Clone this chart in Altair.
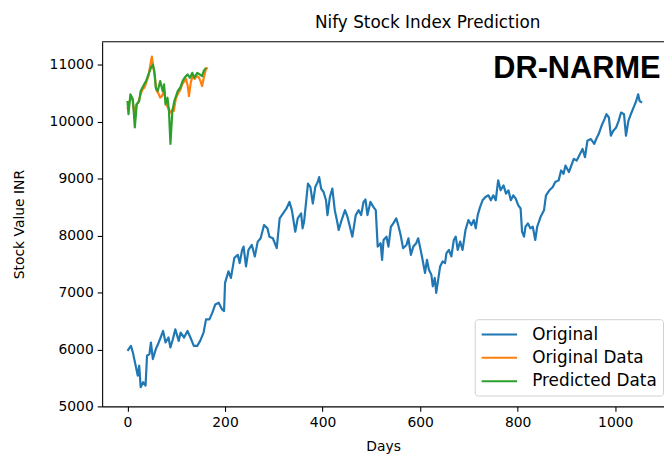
import altair as alt
import pandas as pd

# ---- data ----
orig_days = [0, 7, 11, 16, 21, 24, 27, 32, 37, 40, 45, 48, 52, 58, 64, 68, 73, 78, 84, 88,
             93, 98, 105, 109, 116, 123, 129, 136, 143, 149, 156, 161, 168, 174, 180, 187, 194, 198, 200, 207,
             212, 219, 226, 230, 235, 238, 243, 248, 255, 261, 267, 273, 280, 287, 291, 298, 306, 312, 319, 326,
             332, 337, 344, 349, 356, 359, 362, 370, 375, 380, 385, 390, 393, 397, 402, 407, 410, 415, 420, 425,
             430, 433, 439, 446, 451, 456, 461, 468, 474, 479, 484, 488, 492, 498, 504, 509, 513, 519, 522, 525,
             531, 535, 540, 545, 551, 555, 560, 565, 572, 576, 581, 586, 592, 596, 601, 605, 610, 614, 618, 623,
             626, 630, 633, 637, 641, 646, 651, 654, 659, 664, 669, 673, 677, 682, 687, 693, 699, 705, 710, 714,
             718, 723, 728, 734, 740, 745, 750, 755, 760, 765, 771, 776, 781, 786, 791, 796, 801, 806, 809, 813,
             816, 821, 826, 831, 836, 840, 847, 854, 858, 865, 872, 877, 884, 889, 894, 898, 905, 910, 915, 921,
             928, 933, 938, 943, 950, 957, 961, 966, 972, 978, 982, 987, 991, 996, 1002, 1007, 1012, 1018, 1022, 1027,
             1032, 1039, 1043, 1047, 1050, 1055]
orig_vals = [5975, 6063, 5948, 5744, 5540, 5714, 5338, 5425, 5366, 5889, 5918, 6122, 5831, 6005, 6122, 6209, 6324, 6122, 6209, 6035,
             6179, 6354, 6150, 6296, 6209, 6324, 6209, 6063, 6063, 6150, 6296, 6528, 6528, 6645, 6789, 6819, 6702, 6673, 7167, 7370,
             7254, 7603, 7661, 7516, 7747, 7805, 7456, 7747, 7834, 7631, 7892, 7951, 8183, 8125, 7979, 7951, 7777, 8300, 8387, 8474,
             8589, 8444, 8066, 8300, 8387, 8125, 8240, 8909, 8850, 8561, 8850, 8937, 9024, 8822, 8763, 8618, 8357, 8676, 8822, 8444,
             8240, 8096, 8270, 8444, 8328, 8153, 7979, 8357, 8444, 8357, 8589, 8631, 8357, 8589, 8502, 8444, 7805, 7864, 7573, 7921,
             7979, 7805, 8153, 8212, 8300, 8183, 8009, 7777, 7834, 7951, 7660, 7805, 7864, 7951, 7747, 7573, 7341, 7573, 7399, 7312,
             7108, 7254, 6993, 7225, 7456, 7544, 7516, 7690, 7747, 7631, 7921, 7979, 7747, 7892, 7747, 8096, 8270, 8183, 8270, 8125,
             8357, 8502, 8618, 8676, 8705, 8618, 8705, 8618, 8967, 8793, 8880, 8735, 8793, 8618, 8705, 8648, 8531, 8473, 8066, 7979,
             8153, 8212, 8125, 8153, 7921, 8153, 8328, 8444, 8705, 8793, 8850, 8937, 8967, 9141, 9083, 9228, 9112, 9228, 9345, 9316,
             9432, 9519, 9373, 9664, 9693, 9606, 9693, 9780, 9925, 10041, 10128, 10070, 9751, 9838, 9895, 10012, 10157, 10128, 9751, 10012,
             10128, 10273, 10360, 10477, 10360, 10331]

test_days = [0, 3, 6, 10, 14, 18, 22, 26, 30, 35, 39, 43, 47, 50, 53, 56, 59, 63, 67, 71,
             75, 79, 83, 87, 91, 95, 99, 104, 108, 112, 116, 120, 124, 126, 130, 134, 138, 142, 146, 150,
             153, 156, 160, 164]
test_vals = [10215, 10300, 10420, 10380, 10150, 10300, 10330, 10450, 10550, 10600, 10700, 10800, 11000, 11140, 10950, 10800, 10550, 10500, 10420, 10450,
             10550, 10300, 10250, 10150, 10200, 10186, 10400, 10500, 10550, 10650, 10700, 10750, 10600, 10447, 10700, 10800, 10750, 10800, 10780, 10700,
             10622, 10750, 10900, 10950]

pred_days = [0, 2, 6, 11, 15, 19, 24, 27, 34, 38, 43, 48, 52, 55, 58, 62, 67, 72, 75, 78,
             82, 85, 88, 92, 96, 103, 108, 113, 117, 123, 128, 133, 137, 143, 148, 153, 156, 161]
pred_vals = [10360, 10128, 10477, 10390, 9895, 10302, 10360, 10535, 10651, 10709, 10826, 10941, 11000, 10883, 10592, 10535, 10709, 10535, 10651, 10302,
             10418, 10186, 9606, 10186, 10360, 10535, 10592, 10709, 10767, 10826, 10767, 10854, 10767, 10854, 10826, 10796, 10883, 10941]

series_names = ["Original", "Original Data", "Predicted Data"]
series_colors = ["#1f77b4", "#ff7f0e", "#2ca02c"]
x_ticks = [0, 200, 400, 600, 800, 1000]
y_ticks = [5000, 6000, 7000, 8000, 9000, 10000, 11000]

frames = []
for name, d, v in zip(series_names, [orig_days, test_days, pred_days], [orig_vals, test_vals, pred_vals]):
    frames.append(pd.DataFrame({"day": d, "value": v, "series": name}))

FONT = "DejaVu Sans"

x_enc = alt.X("day:Q", scale=alt.Scale(domain=[-52, 1100], nice=False, zero=False),
              axis=alt.Axis(values=x_ticks, format="d", title="Days", titleY=44, titleBaseline="alphabetic"))
y_enc = alt.Y("value:Q", scale=alt.Scale(domain=[5000, 11400], nice=False, zero=False),
              axis=alt.Axis(values=y_ticks, format="d", title="Stock Value INR"))
color_enc = alt.Color("series:N",
                      scale=alt.Scale(domain=series_names, range=series_colors),
                      legend=alt.Legend(title=None, orient="none", legendX=376, legendY=280,
                                        symbolType="M-1,0H3.2", symbolSize=289, symbolStrokeWidth=2,
                                        labelFontSize=17, labelFont=FONT, labelColor="black",
                                        rowPadding=5.5, labelOffset=33, padding=6,
                                        strokeColor="#d0d0d0", fillColor="rgba(255,255,255,0.8)",
                                        cornerRadius=3))

layers = []
for f in frames:
    layers.append(
        alt.Chart(f).mark_line(strokeWidth=2.2, strokeJoin="round").encode(x=x_enc, y=y_enc, color=color_enc)
    )

top_spine = alt.Chart(pd.DataFrame({"v": [11400]})).mark_rule(color="black", strokeWidth=1.1).encode(
    y=alt.Y("v:Q", scale=alt.Scale(domain=[5000, 11400], nice=False, zero=False))
)

brand = alt.Chart(pd.DataFrame({"day": [750], "value": [10757], "t": ["DR-NARME"]})).mark_text(
    font="Liberation Sans", fontSize=31, fontWeight="bold", align="left", baseline="alphabetic", color="black"
).encode(x="day:Q", y="value:Q", text="t:N")

chart = alt.layer(*layers, top_spine, brand).properties(
    width=567, height=368,
    title=alt.Title("Nify Stock Index Prediction", fontSize=17, font=FONT, fontWeight="normal",
                    color="black", anchor="middle", dx=45, offset=9),
    autosize=alt.AutoSizeParams(type="none"),
    padding={"left": 95, "top": 32, "right": 0, "bottom": 48},
).configure_view(stroke=None).configure_axis(
    grid=False, domainColor="black", domainWidth=1.1, tickColor="black", tickWidth=1.1, tickSize=5,
    labelFont=FONT, labelFontSize=14, labelColor="black", labelPadding=4,
    titleFont=FONT, titleFontSize=14, titleFontWeight="normal", titleColor="black",
).configure_axisY(titlePadding=23)

chart.save("out.html", embed_options={"renderer": "svg", "actions": False})
